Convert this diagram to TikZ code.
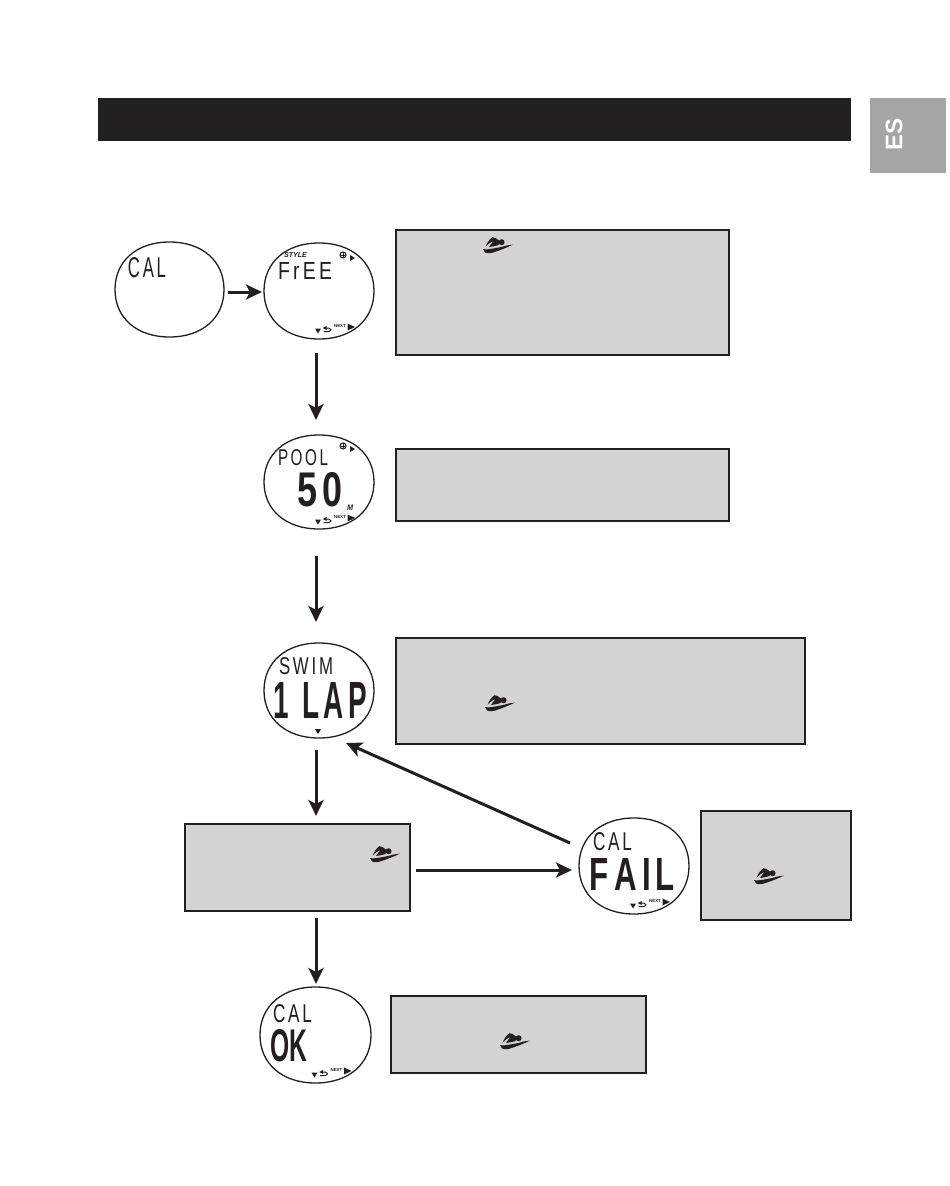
\documentclass[tikz,border=0pt]{standalone}
\usepackage{fontspec}
\usepackage{graphicx}
\setmainfont{Liberation Sans}
\usetikzlibrary{arrows.meta,calc}
\definecolor{inkblack}{HTML}{231F20}
\definecolor{panelgray}{HTML}{D3D3D3}
\definecolor{tabgray}{HTML}{A5A5A5}
\tikzset{
  x=1pt,y=-1pt,
  panel/.style={draw=inkblack,fill=panelgray,line width=1.8pt,inner sep=0pt,outer sep=0pt},
  watchnode/.style={inner sep=0pt,outer sep=0pt},
  watchline/.style={draw=inkblack,line width=1.3pt},
  flow/.style={draw=inkblack,line width=3pt,-{Stealth[length=16pt,width=15pt,inset=4pt]}},
  lcd/.style={inner sep=0pt,outer sep=0pt,text=inkblack}
}
% name, x0, y0, x1, y1 : empty named node plus its outline
\newcommand{\watchface}[5]{%
  \path let \n1={#4-#2},\n2={#5-#3} in
    node[watchnode,minimum width=\n1 pt,minimum height=\n2 pt] (#1) at ({(#2+#4)/2},{(#3+#5)/2}) {};
  \draw[watchline] let \n1={(#4-#2)/2},\n2={(#5-#3)/2},\n3={(#4-#2)/2*0.6},\n4={(#5-#3)/2*0.6} in
    (#1.north) .. controls ++(\n3,0) and ($(#1.east)+(0,-\n4)$) .. (#1.east)
    .. controls ++(0,\n4) and ($(#1.south)+(\n3,0)$) .. (#1.south)
    .. controls ++(-\n3,0) and ($(#1.west)+(0,\n4)$) .. (#1.west)
    .. controls ++(0,-\n4) and ($(#1.north)+(-\n3,0)$) .. (#1.north) -- cycle;
}
% name, x0, y0, x1, y1, text : text fitted to the extents
\newcommand{\lcdtext}[6]{%
  \path let \n1={#4-#2},\n2={#5-#3} in
    node[lcd] (#1) at ({(#2+#4)/2},{(#3+#5)/2}) {\resizebox{\n1 pt}{\n2 pt}{#6}};
}
% soft keys at the bottom of a display, relative to the watch node
\newcommand{\softkeys}[1]{%
  \begin{scope}[shift={(#1.center)}]
    \fill[inkblack] (-4,37.5) -- (2,37.5) -- (-1,42.5) -- cycle;
    \draw[inkblack,line width=1pt] (4.5,40.7) -- (10,40.7)
       .. controls (12.6,40.7) and (12.6,37) .. (10,37) -- (7,37);
    \fill[inkblack] (3.8,37) -- (7.5,35) -- (7.5,39) -- cycle;
    \node[lcd,font=\bfseries\fontsize{4.4}{5}\selectfont] at (21,34.5) {NEXT};
    \fill[inkblack] (28.5,32.5) -- (36,36) -- (28.5,39.5) -- cycle;
  \end{scope}
}
\newcommand{\pluskey}[1]{%
  \begin{scope}[shift={(#1.center)}]
    \draw[inkblack,line width=1.1pt] (24,-36) circle (3);
    \draw[inkblack,line width=.9pt] (22.2,-36) -- (25.8,-36) (24,-37.8) -- (24,-34.2);
    \fill[inkblack] (31,-36) -- (36,-33) -- (31,-30) -- cycle;
  \end{scope}
}
% swimmer glyph with its top-left corner at x,y
\newcommand{\swimmer}[2]{%
  \begin{scope}[shift={(#1,#2)}]
    \fill[inkblack] (2.5,9.5) .. controls (4,6) and (7,1.5) .. (9.5,0.2)
      .. controls (11.5,-0.3) and (14,2) .. (16,3.6)
      .. controls (17,6.5) and (16,8) .. (14.5,8.4)
      .. controls (12,9) and (9,9.6) .. (6,10)
      .. controls (7.5,7.5) and (9.5,5.5) .. (10.5,3.8)
      .. controls (8,4.5) and (5.5,7) .. (2.5,9.5) -- cycle;
    \fill[inkblack] (18.6,5.2) circle (3);
    \fill[inkblack] (0,12) .. controls (3,12.8) and (7,12) .. (10,11.5)
      .. controls (16,10.6) and (21,9.4) .. (24,8.4) -- (30,7.6)
      .. controls (24,10.4) and (16,13.8) .. (9,15.8)
      .. controls (5.5,16.6) and (2,16.4) .. (1.5,14.6) -- cycle;
  \end{scope}
}
\begin{document}
\begin{tikzpicture}
\useasboundingbox (0,0) rectangle (950,1186);
\fill[white] (0,0) rectangle (950,1186);

% header and language tab
\node[fill=inkblack,inner sep=0pt,outer sep=0pt,minimum width=753pt,minimum height=43pt] (header) at (474.5,119.5) {};
\node[fill=tabgray,inner sep=0pt,outer sep=0pt,minimum width=76pt,minimum height=75pt] (tab) at (908,135.5) {};
\node[rotate=90,text=white,inner sep=0pt,font=\bfseries\fontsize{24}{24}\selectfont] (es) at (894,134) {ES};

% text panels
\node[panel,minimum width=333pt,minimum height=125pt] (p1) at (562.5,292.5) {};
\node[panel,minimum width=333pt,minimum height=72pt] (p2) at (562.5,485) {};
\node[panel,minimum width=409pt,minimum height=106pt] (p3) at (600.5,691) {};
\node[panel,minimum width=225pt,minimum height=87pt] (p4) at (297.5,867.5) {};
\node[panel,minimum width=150pt,minimum height=109pt] (p5) at (776,865.5) {};
\node[panel,minimum width=255pt,minimum height=77pt] (p6) at (518.5,1034.5) {};

\swimmer{483}{237}
\swimmer{485}{695}
\swimmer{370}{846}
\swimmer{754}{868}
\swimmer{500}{1033}

% watch displays
\watchface{wcal}{115}{242}{224}{337}
\watchface{wfree}{264}{243}{374}{339}
\watchface{wpool}{264}{435}{374}{529}
\watchface{wswim}{264}{643}{374}{738}
\watchface{wfail}{579}{818}{689}{914}
\watchface{wok}{260}{987}{371}{1083}

% display texts
\lcdtext{tcal}{128}{258}{166}{278}{C\,A\,L}
\lcdtext{tstyle}{284}{253}{307}{258}{\bfseries\itshape STYLE}
\lcdtext{tfree}{278}{262}{332}{279}{F\,r\,E\,E}
\lcdtext{tpool}{278}{450}{328}{466}{P\,O\,O\,L}
\lcdtext{t50}{297}{473}{343}{507}{\bfseries 5\,0}
\lcdtext{tm}{347}{505}{353}{510.5}{\bfseries\itshape M}
\lcdtext{tswim}{279}{658}{333}{675}{S\,W\,I\,M}
\lcdtext{tlap}{273}{682}{367}{718}{\bfseries 1\hspace{.5em}L\hspace{.15em}A\,P}
\lcdtext{tcalf}{593}{833}{632}{851}{C\,A\,L}
\lcdtext{tfail}{590}{858}{675}{890}{\bfseries F\,A\,I\,L}
\lcdtext{tcalo}{273}{1005}{312}{1023}{C\,A\,L}
\lcdtext{tok}{270}{1030}{307}{1062}{\bfseries OK}

% soft-key glyphs
\pluskey{wfree}
\softkeys{wfree}
\pluskey{wpool}
\softkeys{wpool}
\softkeys{wfail}
\softkeys{wok}
\fill[inkblack] (315,729) -- (321,729) -- (318,734) -- cycle;

% connectors
\draw[flow] ([shift={(4,2.5)}]wcal.east) -- ([shift={(-2,1)}]wfree.west);
\draw[flow] ([shift={(-3,14)}]wfree.south) -- ([shift={(-3,-15)}]wpool.north);
\draw[flow] ([shift={(-3,27)}]wpool.south) -- ([shift={(-3,-21)}]wswim.north);
\draw[flow] ([shift={(-3,12)}]wswim.south) -- ([shift={(18.5,-8)}]p4.north);
\draw[flow] ([shift={(18.5,7)}]p4.south) -- ([shift={(0.5,-3)}]wok.north);
\draw[flow] ([shift={(6,2.5)}]p4.east) -- ([shift={(-7,4)}]wfail.west);
\draw[flow] ([shift={(-9,-23)}]wfail.west) -- ([shift={(27,5)}]wswim.south);
\end{tikzpicture}
\end{document}
